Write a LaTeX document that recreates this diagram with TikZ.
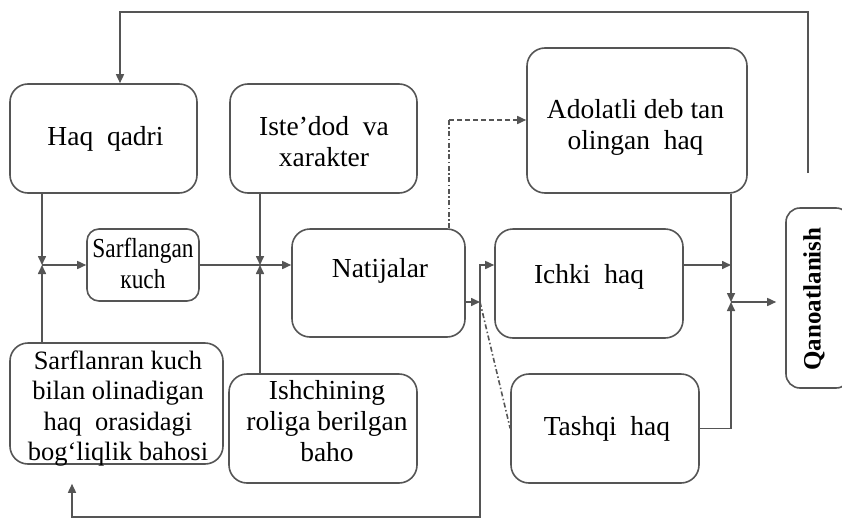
\documentclass[tikz,border=0pt]{standalone}
\usepackage{fontspec}
\usepackage{graphicx}
\setmainfont{Liberation Serif}
\usetikzlibrary{arrows.meta}
\definecolor{linegray}{RGB}{85,85,85}
\begin{document}
\begin{tikzpicture}[x=1pt,y=-1pt,
  line width=1.6pt,
  box/.style={draw=linegray, rounded corners=18pt, inner sep=0pt},
  txt/.style={inner sep=0pt, align=center, font=\fontsize{27.5}{31}\selectfont, anchor=north},
  link/.style={draw=linegray, line width=1.6pt},
  tip/.style={-{Triangle[length=9pt,width=8pt]}},
  arr/.style={link, tip},
  dashdot/.style={link, dash pattern=on 5pt off 2.5pt on 1.5pt off 2.5pt},
  dashline/.style={link, dash pattern=on 5pt off 3pt},
]
\useasboundingbox (0,0) rectangle (842,519);
\clip (0,0) rectangle (842,519);

% boxes
\node[box, minimum width=187pt, minimum height=109pt] (hq)  at (103.5,138.5) {};
\node[box, minimum width=187pt, minimum height=109pt] (isd) at (323.5,138.5) {};
\node[box, minimum width=220pt, minimum height=145pt] (ad)  at (637,120.5) {};
\node[box, rounded corners=12pt, minimum width=112pt, minimum height=72pt] (sf) at (143,265) {};
\node[box, minimum width=173pt, minimum height=108pt] (nat) at (378.5,283) {};
\node[box, minimum width=188pt, minimum height=109pt] (ich) at (589,283.5) {};
\node[box, minimum width=188pt, minimum height=109pt] (tq)  at (605,428.5) {};
\node[box, minimum width=213pt, minimum height=121pt] (sk)  at (116.5,403.5) {};
\node[box, minimum width=188pt, minimum height=109pt] (ish) at (323,428.5) {};
\node[box, rounded corners=14pt, minimum width=64pt, minimum height=180pt] (q) at (818,298) {};

% texts
\node[txt] (hq-t)  at (105.5,126) {Haq~~qadri};
\node[txt] (isd-t) at (324,116) {Iste’dod~~va\\xarakter};
\node[txt] (ad-t)  at (635.5,99) {Adolatli deb tan\\olingan~~haq};
\node[txt] (sf-t)  at (143,237) {\scalebox{0.85}[1]{Sarflangan}\\\scalebox{0.85}[1]{кuch}};
\node[txt] (nat-t) at (380,258) {Natijalar};
\node[txt] (ich-t) at (589,264) {Ichki~~haq};
\node[txt] (tq-t)  at (607,416) {Tashqi~~haq};
\node[txt, font=\fontsize{26.5}{30.5}\selectfont] (sk-t) at (118,350)
  {Sarflanran kuch\\bilan olinadigan\\haq~~orasidagi\\bog‘liqlik bahosi};
\node[txt] (ish-t) at (327,380) {Ishchining\\roliga berilgan\\baho};
\node[txt, anchor=center, rotate=90, font=\fontsize{25}{30}\selectfont\bfseries] (q-t) at (814,299) {Qanoatlanish};

% junctions and bend points
\coordinate (j1) at (42,265);
\coordinate (j2) at (260,265);
\coordinate (j3) at (480,302);
\coordinate (j4) at (731,302);
\coordinate (b2) at (72,517);
\coordinate (d1) at (449,120);
\coordinate (f0) at (808,173);
\coordinate (f2) at (120,12);

% left junction
\draw[arr] (hq.south -| j1) -- (j1);
\draw[arr] (sk.north -| j1) -- (j1);
\draw[arr] (j1) -- (sf.west);
% middle junction
\draw[arr] (sf.east) -- (nat.west |- j2);
\draw[arr] (isd.south -| j2) -- (j2);
\draw[arr] (ish.north -| j2) -- (j2);
% results split
\draw[arr] (nat.east |- j3) -- (j3);
\draw[arr] (j3) |- (ich.west |- j1);
\draw[arr, shorten >=19pt] (j3) |- (b2) -- (sk.south -| b2);
\draw[dashdot] (j3) -- (tq.west);
\draw[dashdot] (nat.north -| d1) -- (d1);
\draw[dashline, tip] (d1) -- (ad.west |- d1);
% right junction
\draw[arr] (ich.east |- j1) -- (j4 |- j1);
\draw[arr] (ad.south -| j4) -- (j4);
\draw[arr] (tq.east) -| (j4);
\draw[arr, shorten >=9pt] (j4) -- (q.west |- j4);
% feedback to the top
\draw[arr] (f0) |- (f2) -- (hq.north -| f2);
\end{tikzpicture}
\end{document}
